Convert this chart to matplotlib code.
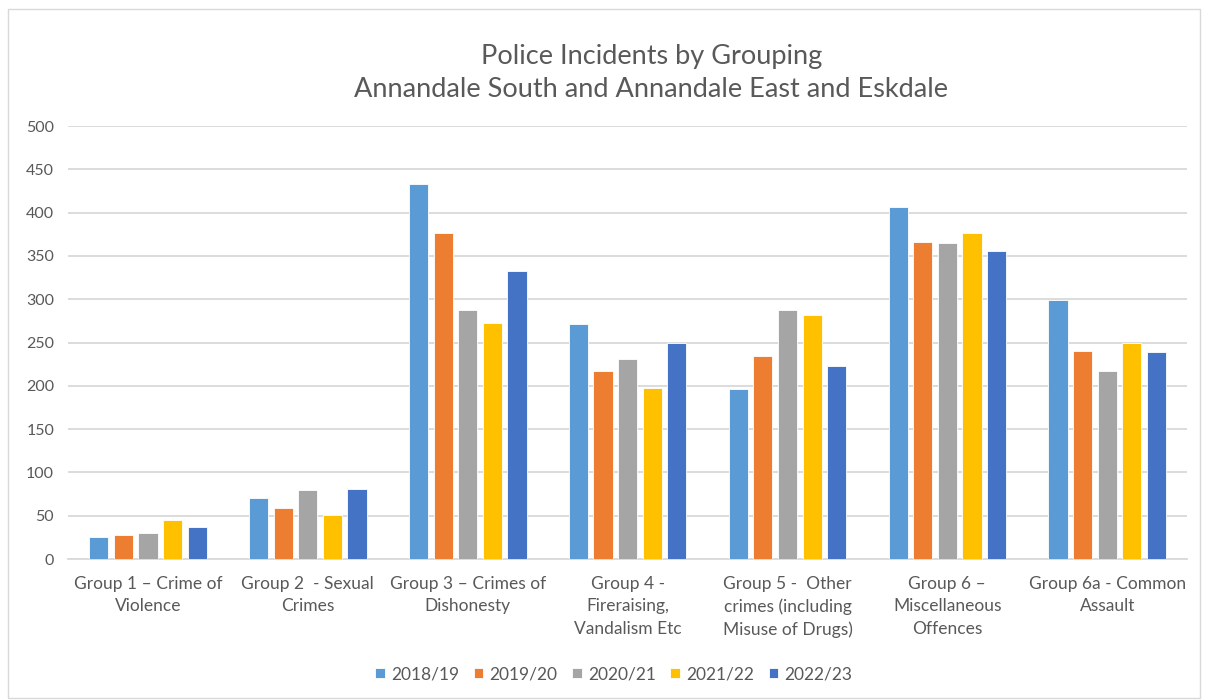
import numpy as np
import matplotlib.pyplot as plt
from matplotlib.patches import Rectangle

# Dữ liệu
categories = [
    "Group 1 – Crime of\nViolence",
    "Group 2  - Sexual\nCrimes",
    "Group 3 – Crimes of\nDishonesty",
    "Group 4 -\nFireraising,\nVandalism Etc",
    "Group 5 -  Other\ncrimes (including\nMisuse of Drugs)",
    "Group 6 –\nMiscellaneous\nOffences",
    "Group 6a - Common\nAssault",
]
years = ["2018/19", "2019/20", "2020/21", "2021/22", "2022/23"]
v_2018 = [25, 71, 433, 271, 196, 407, 299]
v_2019 = [28, 59, 376, 217, 234, 366, 240]
v_2020 = [30, 80, 288, 231, 287, 365, 217]
v_2021 = [45, 51, 273, 197, 282, 376, 250]
v_2022 = [37, 81, 332, 249, 223, 356, 239]
series = [v_2018, v_2019, v_2020, v_2021, v_2022]
colors = ["#5B9BD5", "#ED7D31", "#A5A5A5", "#FFC000", "#4472C4"]

plt.rcParams['font.family'] = ['Lato', 'DejaVu Sans']
text_color = "#595959"

fig = plt.figure(figsize=(12.06, 7), dpi=100)
ax = fig.add_axes([0.0564, 0.2014, 0.928, 0.6186])

x = np.arange(len(categories))
slot = 0.154
bar_w = 0.12
for i, (vals, col, lab) in enumerate(zip(series, colors, years)):
    ax.bar(x + (i - 2) * slot, vals, width=bar_w, color=col, label=lab,
           edgecolor="white", linewidth=0.6, zorder=3)

ax.set_xlim(-0.5, len(categories) - 0.5)
ax.set_ylim(0, 500)
ax.set_yticks(range(0, 501, 50))
ax.yaxis.grid(True, color="#D9D9D9", linewidth=1.3, zorder=0)
ax.set_axisbelow(True)
for s in ["top", "right", "left"]:
    ax.spines[s].set_visible(False)
ax.spines["bottom"].set_color("#D9D9D9")
ax.spines["bottom"].set_linewidth(1.3)
ax.tick_params(axis="both", length=0, colors=text_color)
ax.tick_params(axis="y", pad=10, labelsize=11.5)
ax.set_xticks(x)
ax.set_xticklabels(categories, linespacing=1.5)
ax.tick_params(axis="x", pad=12, labelsize=12.5)

fig.text(0.54, 0.896, "Police Incidents by Grouping\nAnnandale South and Annandale East and Eskdale",
         ha="center", va="center", fontsize=19.5, color=text_color, linespacing=1.4)

leg = fig.legend(loc="center", bbox_to_anchor=(0.509, 0.037), ncol=5, frameon=False,
                 fontsize=12.5, handlelength=0.55, handleheight=0.55, handletextpad=0.35,
                 columnspacing=0.85)
for t in leg.get_texts():
    t.set_color(text_color)

# Viền ngoài của biểu đồ
fig.patches.append(Rectangle((0.007, 0.003), 0.988, 0.984, transform=fig.transFigure,
                             fill=False, edgecolor="#D9D9D9", linewidth=1))

fig.savefig("out.png", dpi=100)
